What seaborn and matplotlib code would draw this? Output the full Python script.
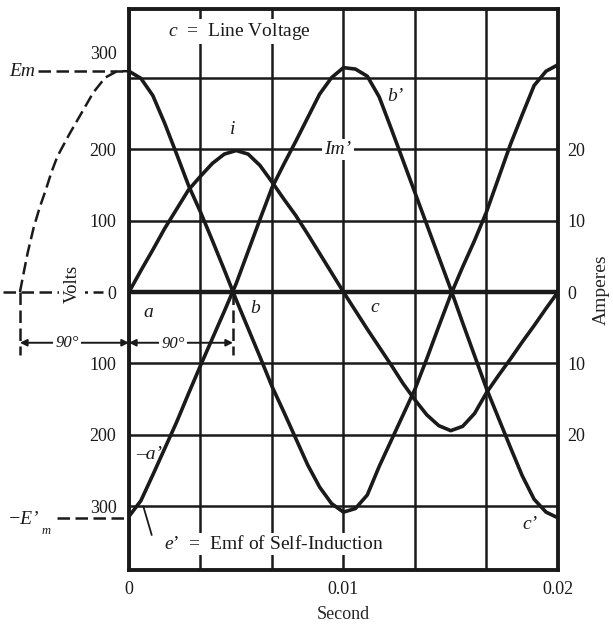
import numpy as np
import seaborn as sns
import matplotlib.pyplot as plt

# phase angle (degrees) where the curves were read, one cycle = 0.02 s
phase_deg = list(range(0, 361, 10))
line_voltage = [309, 299, 275, 236, 193, 149, 112, 72, 31, -11, -51, -91, -132, -168,
                -205, -242, -273, -296, -308, -303, -284, -244, -208, -172, -136, -93,
                -48, -4, 35, 72, 112, 159, 206, 248, 289, 309, 318]
self_emf = [-314, -292, -256, -219, -182, -142, -103, -65, -27, 12, 57, 102, 146, 179,
            211, 244, 277, 300, 314, 312, 302, 273, 229, 184, 139, 94, 49, 4, -43, -89,
            -135, -176, -217, -257, -290, -308, -316]
current_amp = [0, 3.0, 5.9, 8.9, 11.6, 14.3, 16.2, 18.0, 19.3, 19.8, 19.3, 17.7, 15.4,
               13.0, 10.7, 8.1, 5.4, 2.7, 0, -2.6, -5.2, -7.7, -10.2, -12.8, -15.1, -17.2,
               -18.7, -19.4, -18.8, -17.0, -14.1, -11.7, -9.4, -7.0, -4.7, -2.3, 0]

# dashed continuation of the line voltage 90 degrees back (left of the frame)
lead_deg = [-91.5, -88, -85, -80, -75, -70, -65, -60, -50, -40, -30, -20, -10, 0]
lead_voltage = [0, 30, 55, 90, 118, 142, 168, 190, 221, 250, 279, 300, 309, 309]

e_max = 309
e_self_max = -316

volt_ticks = [-300, -200, -100, 0, 100, 200]
volt_labels = ["300", "200", "100", "0", "100", "200"]
amp_ticks = [-20, -10, 0, 10, 20]
amp_labels = ["20", "10", "0", "10", "20"]
sec_ticks = [0, 0.01, 0.02]
sec_labels = ["0", "0.01", "0.02"]


def sec(deg):
    return np.asarray(deg, dtype=float) / 360 * 0.02


ink = "#1a1a1a"
sns.set_style("white")
plt.rcParams["font.family"] = ["Liberation Serif", "DejaVu Serif"]
plt.rcParams["mathtext.fontset"] = "custom"
plt.rcParams["mathtext.rm"] = "Liberation Serif"
plt.rcParams["mathtext.it"] = "Liberation Serif:italic"
plt.rcParams["text.color"] = ink

fig = plt.figure(figsize=(6.13, 6.27), dpi=100)
ax = fig.add_axes([0.2104, 0.0909, 0.6998, 0.8947])

sns.lineplot(x=sec(phase_deg), y=line_voltage, ax=ax, color=ink, lw=2.6)
sns.lineplot(x=sec(phase_deg), y=self_emf, ax=ax, color=ink, lw=2.6)
ax.axhline(0, color=ink, lw=3.2, zorder=1)

ax.set_xlim(0, 0.02)
ax.set_ylim(-389, 396)
ax.set_xticks(sec_ticks)
ax.set_xticklabels(sec_labels)
ax.set_xticks([0.02 * k / 6 for k in (1, 2, 4, 5)], minor=True)
ax.set_yticks(volt_ticks)
ax.set_yticklabels(volt_labels)
ax.set_yticks([300], minor=True)
ax.grid(True, which="both", color=ink, lw=1.8)
ax.tick_params(which="both", length=0, labelsize=13, colors=ink)
ax.tick_params(axis="y", pad=9)
ax.tick_params(axis="x", pad=8)
ax.set_xlabel("Second", fontsize=13, labelpad=6)
ax.set_ylabel("")
for s in ax.spines.values():
    s.set_linewidth(2.8)
    s.set_color(ink)

ax2 = ax.twinx()
sns.lineplot(x=sec(phase_deg), y=current_amp, ax=ax2, color=ink, lw=2.6)
ax2.set_ylim(-38.9, 39.6)
ax2.set_xlim(0, 0.02)
ax2.set_yticks(amp_ticks)
ax2.set_yticklabels(amp_labels)
ax2.tick_params(length=0, labelsize=13, pad=7, colors=ink)
ax2.set_ylabel("Amperes", fontsize=14, labelpad=5)
ax2.grid(False)
for s in ax2.spines.values():
    s.set_visible(False)

# construction lines outside the frame
dash = dict(color=ink, lw=1.8, dashes=(5, 2.2), clip_on=False)
ax.plot(sec(lead_deg), lead_voltage, **dash)
ax.plot([sec(-91.5), sec(-91.5)], [0, -88], **dash)
ax.plot([sec(87.3), sec(87.3)], [0, -88], **dash)
ax.plot([sec(-76), 0], [e_max, e_max], **dash)
ax.plot([sec(-60), 0], [e_self_max, e_self_max], **dash)
ax.plot([sec(-106), sec(-22)], [0, 0], **dash)
ax.plot([0.00067, 0.00106], [-300, -340], color=ink, lw=1.3, clip_on=False)

for x0, x1 in [(sec(-91.5), 0.0), (0.0, sec(87.3))]:
    ax.annotate("", xy=(x1, -71), xytext=(x0, -71), annotation_clip=False,
                arrowprops=dict(arrowstyle="<|-|>", color=ink, lw=1.4,
                                mutation_scale=10, shrinkA=0, shrinkB=0))

white = dict(fc="white", ec="none", pad=1.5)
ax.text(sec(-52), -72, "90°", ha="center", va="center", fontsize=12,
        fontstyle="italic", bbox=white, clip_on=False)
ax.text(sec(37), -73, "90°", ha="center", va="center", fontsize=12,
        fontstyle="italic", bbox=white)

ax.text(-0.00058, 333, "300", ha="right", va="center", fontsize=13)
ax.text(0.00513, 365, r"$c$  =  Line Voltage", ha="center", va="center",
        fontsize=14, bbox=white)
ax.text(0.00676, -353, r"$e$’  =  Emf of Self-Induction", ha="center",
        va="center", fontsize=14, bbox=white)
ax.text(0.00974, 199, "Im’", ha="center", va="center", fontsize=14,
        fontstyle="italic", bbox=white)
ax.text(-0.00266, 11, "Volts", rotation=90, ha="center", va="center",
        fontsize=13.5, bbox=dict(fc="white", ec="none", pad=3))
ax.text(-0.00499, 309, "Em", ha="center", va="center", fontsize=14,
        fontstyle="italic")
ax.text(-0.00564, -318, "−E’", ha="left", va="center", fontsize=14,
        fontstyle="italic")
ax.text(-0.00387, -334, "m", ha="center", va="center", fontsize=9,
        fontstyle="italic")

for txt, x, y in [("i", 0.00485, 227), ("a", 0.00089, -28), ("b", 0.00587, -23),
                  ("c", 0.01147, -21), ("b’", 0.0124, 274), ("–a’", 0.00092, -227),
                  ("c’", 0.01869, -325)]:
    ax.text(x, y, txt, ha="center", va="center", fontsize=14, fontstyle="italic")

fig.savefig("out.png", dpi=100, facecolor="white")
